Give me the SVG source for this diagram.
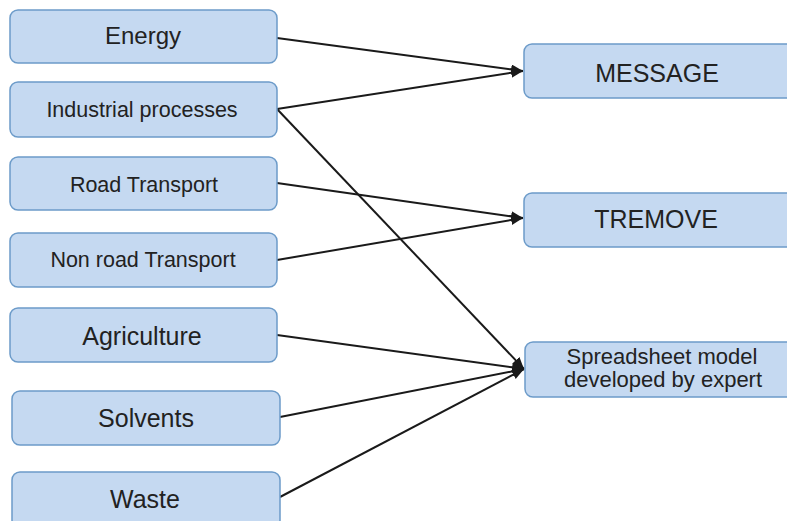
<svg xmlns="http://www.w3.org/2000/svg" width="787" height="521" viewBox="0 0 787 521">
<defs>
<style>
.box{fill:#c5d9f1;stroke:#6c9bc9;stroke-width:1.5}
.t{font-family:"Liberation Sans",Arial,sans-serif;fill:#222;text-anchor:middle}
.c{stroke:#1a1a1a;stroke-width:2;fill:none;marker-end:url(#ah)}
</style>
<marker id="ah" viewBox="0 0 12 10" refX="12" refY="5" markerWidth="12" markerHeight="10" markerUnits="userSpaceOnUse" orient="auto">
<path d="M0,0 L12,5 L0,10 Z" fill="#1a1a1a"/>
</marker>
</defs>
<rect width="787" height="521" fill="#ffffff"/>
<g id="connectors">
<line class="c" x1="277" y1="38" x2="523" y2="71"/>
<line class="c" x1="277" y1="109" x2="523" y2="71"/>
<line class="c" x1="277" y1="109" x2="524" y2="369"/>
<line class="c" x1="277" y1="183" x2="523" y2="218"/>
<line class="c" x1="277" y1="260" x2="523" y2="218"/>
<line class="c" x1="277" y1="335" x2="524" y2="369"/>
<line class="c" x1="280" y1="417" x2="524" y2="369"/>
<line class="c" x1="280" y1="497" x2="524" y2="369"/>
</g>
<g id="energy"><rect class="box" x="10" y="10" width="267" height="53" rx="8"/><text class="t" x="143" y="44" font-size="24">Energy</text></g>
<g id="industrial"><rect class="box" x="10" y="82" width="267" height="55" rx="8"/><text class="t" x="142" y="117" font-size="21.5">Industrial processes</text></g>
<g id="road"><rect class="box" x="10" y="157" width="267" height="53" rx="8"/><text class="t" x="144" y="192" font-size="21.5">Road Transport</text></g>
<g id="nonroad"><rect class="box" x="10" y="233" width="267" height="54" rx="8"/><text class="t" x="143" y="267" font-size="21.5">Non road Transport</text></g>
<g id="agriculture"><rect class="box" x="10" y="308" width="267" height="54" rx="8"/><text class="t" x="142" y="345" font-size="25">Agriculture</text></g>
<g id="solvents"><rect class="box" x="12" y="391" width="268" height="54" rx="8"/><text class="t" x="146" y="427" font-size="25">Solvents</text></g>
<g id="waste"><rect class="box" x="12" y="472" width="268" height="56" rx="8"/><text class="t" x="145" y="508" font-size="25">Waste</text></g>
<g id="message"><rect class="box" x="524" y="44" width="270" height="54" rx="8"/><text class="t" x="657" y="82" font-size="25">MESSAGE</text></g>
<g id="tremove"><rect class="box" x="524" y="193" width="270" height="54" rx="8"/><text class="t" x="656" y="228" font-size="25">TREMOVE</text></g>
<g id="spreadsheet"><rect class="box" x="525" y="342" width="270" height="55" rx="8"/><text class="t" x="662" y="364" font-size="22">Spreadsheet model</text><text class="t" x="663" y="387" font-size="22">developed by expert</text></g>
</svg>
